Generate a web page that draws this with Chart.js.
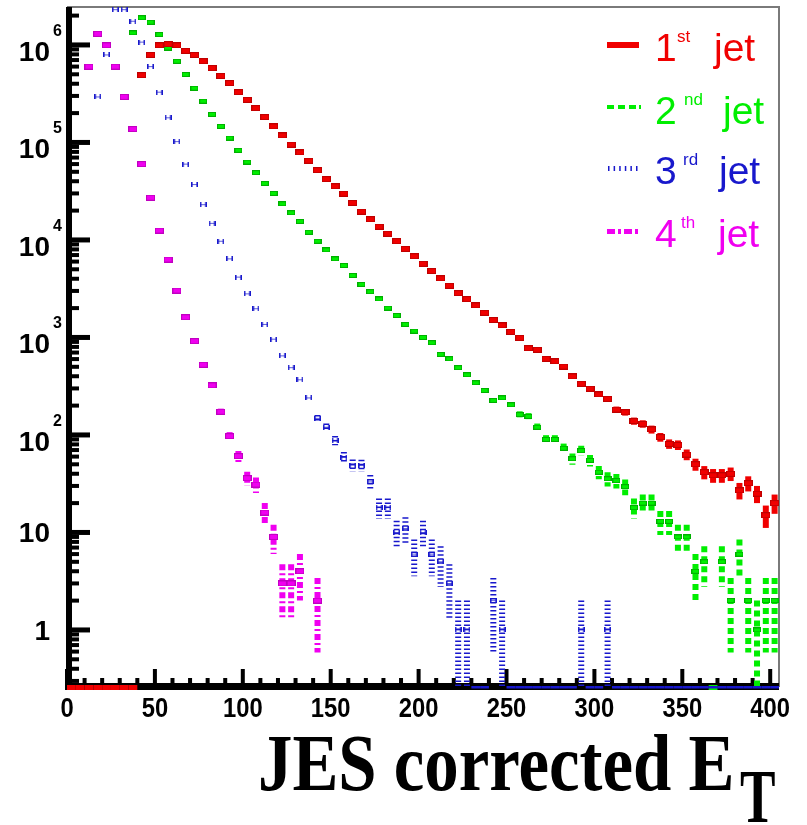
<!DOCTYPE html>
<html>
<head>
<meta charset="utf-8">
<script src="https://cdn.jsdelivr.net/npm/chart.js@4.4.1/dist/chart.umd.min.js"></script>
<style>
  html, body { margin: 0; padding: 0; background: #fff; }
  #wrap { position: relative; width: 807px; height: 825px; overflow: hidden; }
  #wrap canvas { position: absolute; left: 0; top: 0; }
  .txt { position: absolute; line-height: 0; white-space: nowrap; transform-origin: 0 0; }
</style>
</head>
<body>
<div id="wrap"><canvas id="jets" width="807" height="825"></canvas></div>
<script>
// JES corrected jet ET spectra, 5 GeV bins from 0 to 405 (bin centres 2.5 ... 402.5)
// null = bin not drawn, 0 = empty bin drawn on the axis
const binCenters = Array.from({ length: 81 }, (_, i) => 2.5 + 5 * i);

const jet1 = [
  0, 0, 0, 0, 0, 0, 0, 0, 4.9e5, 7.9e5,
  9.9e5, 1.02e6, 9.9e5, 8.7e5, 7.9e5, 6.8e5, 5.8e5, 4.8e5, 4.06e5, 3.28e5,
  2.74e5, 2.25e5, 1.82e5, 1.46e5, 1.18e5, 9.5e4, 7.9e4, 6.5e4, 5.2e4, 4.2e4,
  3.55e4, 2.98e4, 2.4e4, 1.95e4, 1.63e4, 1.37e4, 1.16e4, 9700, 8100, 6800,
  5700, 4800, 4030, 3390, 2850, 2470, 2130, 1790, 1510, 1330,
  1140, 990, 776, 748, 604, 568, 503, 398, 335, 298,
  260, 235, 182, 171, 139, 130, 114, 95, 81, 79,
  63, 50, 41.5, 38.5, 38.5, 40, 27, 32, 25, 15,
  20
];
const jet2 = [
  null, null, null, null, null, null, null, 1.33e6, 1.9e6, 1.71e6,
  1.28e6, 9.3e5, 6.8e5, 4.98e5, 3.6e5, 2.65e5, 1.94e5, 1.46e5, 1.11e5, 8.3e4,
  6.3e4, 4.9e4, 3.8e4, 3.0e4, 2.35e4, 1.9e4, 1.55e4, 1.2e4, 9700, 7900,
  6400, 5470, 4320, 3500, 2950, 2480, 2000, 1680, 1360, 1160,
  1000, 883, 670, 604, 490, 414, 343, 286, 226, 240,
  204, 162, 155, 120, 90, 90, 73, 57, 69, 55,
  41.5, 35.5, 34, 29.5, 18, 20, 20, 13, 13, 9,
  9, 4, 5, 0, 5, 2, 6, 2, 1, 2,
  2
];
const jet3 = [
  null, null, null, 2.93e5, 7.9e5, 2.3e6, 2.3e6, 1.75e6, 1.07e6, 6.0e5,
  3.28e5, 1.79e5, 1.02e5, 6.0e4, 3.7e4, 2.3e4, 1.48e4, 9700, 6400, 4160,
  2800, 1970, 1360, 960, 648, 490, 368, 240, 148, 120,
  88, 59, 49, 48.6, 33, 18, 18, 10, 11, 6,
  10, 6, 5, 3, 1, 1, 0, 0, 2, 1,
  0, 0, 0, 0, 0, 0, 0, 0, 1, 0,
  0, 1, 0, 0, 0, 0, 0, 0, 0, 0,
  0, 0, 0, 0, 0, 0, 0, 0, 0, 0,
  0
];
const jet4 = [
  null, null, 6.0e5, 1.30e6, 9.9e5, 6.0e5, 2.93e5, 1.37e5, 6.0e4, 2.71e4,
  1.25e4, 6300, 3030, 1610, 916, 525, 322, 173, 97, 60.6,
  36, 31, 16, 9, 3, 3, 4, null, 2, null,
  null, null, null, null, null, null, null, null, null, null,
  null, null, null, null, null, null, null, null, null, null,
  null, null, null, null, null, null, null, null, null, null,
  null, null, null, null, null, null, null, null, null, null,
  null, null, null, null, null, null, null, null, null, null,
  null
];

const seriesNames = ['1st jet', '2nd jet', '3rd jet', '4th jet'];
const xTicks = [0, 50, 100, 150, 200, 250, 300, 350, 400];
const yTicks = [1, 10, 1e2, 1e3, 1e4, 1e5, 1e6];
const yTickBase = ['1', '10', '10', '10', '10', '10', '10'];
const yTickExp = ['', '', '2', '3', '4', '5', '6'];

const RED = '#f00000', GREEN = '#00ee00', BLUE = '#1818cc', MAGENTA = '#f000f0';

function boxMarker(w, h, fill, edge) {
  const c = document.createElement('canvas');
  c.width = w; c.height = h;
  const g = c.getContext('2d');
  g.fillStyle = edge; g.fillRect(0, 0, w, h);
  g.fillStyle = fill; g.fillRect(1, 1, w - 2, h - 2);
  return c;
}
function hMarker(w, h, color) {
  const c = document.createElement('canvas');
  c.width = w; c.height = h;
  const g = c.getContext('2d');
  g.fillStyle = color;
  g.fillRect(0, 0, 1.6, h);
  g.fillRect(w - 1.6, 0, 1.6, h);
  g.globalAlpha = 0.7;
  g.fillRect(0, h / 2 - 0.5, w, 1);
  return c;
}

function points(values) {
  const out = [];
  values.forEach((v, i) => { if (v) out.push({ x: binCenters[i], y: v }); });
  return out;
}

const styles = [
  { color: RED, marker: boxMarker(9, 6, RED, '#c00000'), errDash: [], errWidth: 6 },
  { color: GREEN, marker: boxMarker(8, 5, GREEN, '#00b000'), errDash: [6, 4], errWidth: 6 },
  { color: BLUE, marker: hMarker(7, 5, BLUE), errDash: [1.5, 2.5], errWidth: 6 },
  { color: MAGENTA, marker: boxMarker(9, 6, MAGENTA, '#c000c0'), errDash: [6, 3, 2, 3], errWidth: 6 }
];
const seriesValues = [jet1, jet2, jet3, jet4];

const datasets = seriesValues.map((vals, i) => ({
  label: seriesNames[i],
  data: points(vals),
  raw: vals,
  showLine: false,
  pointStyle: styles[i].marker,
  pointRadius: 4,
  pointHoverRadius: 4,
  errColor: styles[i].color,
  errDash: styles[i].errDash,
  errWidth: styles[i].errWidth
}));

// frame, ticks inside the plot, ROOT style
const axesPlugin = {
  id: 'rootAxes',
  beforeDatasetsDraw(chart) {
    const { ctx, chartArea: a, scales: { x, y } } = chart;
    ctx.save();
    ctx.strokeStyle = '#7a7a7a'; ctx.lineWidth = 2;
    ctx.beginPath();
    ctx.moveTo(a.left, a.top); ctx.lineTo(a.right, a.top); ctx.lineTo(a.right, a.bottom);
    ctx.stroke();
    ctx.fillStyle = '#000';
    ctx.fillRect(a.left - 1, a.top, 6, a.bottom - a.top + 3);
    ctx.fillRect(a.left - 1, a.bottom - 4, a.right - a.left + 1, 7);
    for (let k = -1; k <= 6; k++) {
      for (let m = 1; m <= 9; m++) {
        const v = m * Math.pow(10, k);
        if (v < y.min || v > y.max) continue;
        const py = y.getPixelForValue(v);
        if (m === 1) ctx.fillRect(a.left, py - 2.5, 23, 5);
        else ctx.fillRect(a.left, py - 2, 12, 4);
      }
    }
    for (let t = 0; t <= 400; t += 10) {
      const px = x.getPixelForValue(t);
      const h = t % 50 === 0 ? 21 : 12;
      ctx.fillRect(px - 2, a.bottom + 3 - h, 4, h);
    }
    // error bars (sqrt N)
    chart.data.datasets.forEach(ds => {
      ctx.strokeStyle = ds.errColor;
      ctx.lineWidth = ds.errWidth;
      ctx.setLineDash(ds.errDash);
      ctx.lineCap = 'butt';
      ds.data.forEach(p => {
        const e = Math.sqrt(p.y);
        const top = y.getPixelForValue(p.y + e);
        const bot = p.y - e > y.min ? y.getPixelForValue(p.y - e) : a.bottom;
        if (bot - top < 6) return;
        const px = x.getPixelForValue(p.x);
        ctx.beginPath();
        ctx.moveTo(px, Math.max(top, a.top)); ctx.lineTo(px, bot);
        ctx.stroke();
      });
    });
    ctx.restore();
  },
  afterDatasetsDraw(chart) {
    const { ctx, chartArea: a, scales: { x } } = chart;
    ctx.save();
    // empty bins are drawn on the axis
    chart.data.datasets.forEach((ds, di) => {
      ds.raw.forEach((v, i) => {
        if (v !== 0) return;
        const x0 = x.getPixelForValue(binCenters[i] - 2.5);
        const x1 = x.getPixelForValue(binCenters[i] + 2.5);
        ctx.fillStyle = ds.errColor;
        if (di === 2) ctx.fillRect(x0, a.bottom - 1, x1 - x0, 2.5);
        else ctx.fillRect(x0, a.bottom - 2, x1 - x0, 5);
      });
    });
    ctx.restore();
  },
  afterDraw(chart) {
    const { ctx, scales: { x, y } } = chart;
    ctx.save();
    ctx.fillStyle = '#000';
    yTicks.forEach((v, i) => {
      const py = y.getPixelForValue(v);
      ctx.font = 'bold 28px "Liberation Sans", Arial, sans-serif';
      ctx.textAlign = 'right';
      ctx.fillText(yTickBase[i], 50, yTickExp[i] ? py + 16 : py + 10);
      if (yTickExp[i]) {
        ctx.font = 'bold 16px "Liberation Sans", Arial, sans-serif';
        ctx.textAlign = 'left';
        ctx.fillText(yTickExp[i], 53, py - 9);
      }
    });
    ctx.font = 'bold 28px "Liberation Sans", Arial, sans-serif';
    ctx.textAlign = 'center';
    xTicks.forEach(t => {
      const px = x.getPixelForValue(t);
      ctx.save();
      ctx.translate(px, 717);
      ctx.scale(0.85, 1);
      ctx.fillText(String(t), 0, 0);
      ctx.restore();
    });
    // legend samples
    const lx0 = 607, lx1 = 639;
    ctx.fillStyle = RED;
    ctx.fillRect(lx0, 42, lx1 - lx0, 6);
    ctx.fillStyle = GREEN;
    [[607, 7], [618, 7], [629, 7], [639, 2]].forEach(s => ctx.fillRect(s[0], 105, s[1], 4));
    ctx.fillStyle = BLUE;
    for (let k = 0; k < 6; k++) ctx.fillRect(608 + k * 5.6, 166, 1.5, 5);
    ctx.fillStyle = MAGENTA;
    [[607, 8], [618, 3], [624, 8], [635, 3]].forEach(s => ctx.fillRect(s[0], 229, s[1], 5));
    ctx.restore();
  }
};

new Chart(document.getElementById('jets'), {
  type: 'scatter',
  data: { datasets },
  options: {
    responsive: false, animation: false, events: [],
    layout: { padding: { left: 67, right: 28, top: 7, bottom: 138 } },
    plugins: { legend: { display: false }, tooltip: { enabled: false } },
    scales: {
      x: { type: 'linear', min: 0, max: 405, display: false },
      y: { type: 'logarithmic', min: 0.26, max: 2.45e6, display: false }
    }
  },
  plugins: [axesPlugin]
});

// legend text and axis title as page text
const wrap = document.getElementById('wrap');
function label(text, left, baseline, size, color, family, weight, sx, k) {
  const s = document.createElement('div');
  s.className = 'txt';
  s.textContent = text;
  s.style.left = left + 'px';
  s.style.top = (baseline - k * size) + 'px';
  s.style.fontSize = size + 'px';
  s.style.color = color;
  s.style.fontFamily = family;
  s.style.fontWeight = weight;
  if (sx !== 1) s.style.transform = 'scaleX(' + sx + ')';
  wrap.appendChild(s);
}
const SANS = '"Liberation Sans", Arial, sans-serif', SERIF = '"Liberation Serif", "Times New Roman", serif';
const legendRows = [
  { num: '1', sup: 'st', color: RED, base: 62, supLeft: 677, jetLeft: 714 },
  { num: '2', sup: 'nd', color: GREEN, base: 125, supLeft: 684, jetLeft: 723 },
  { num: '3', sup: 'rd', color: BLUE, base: 185, supLeft: 683, jetLeft: 719 },
  { num: '4', sup: 'th', color: MAGENTA, base: 248, supLeft: 681, jetLeft: 718 }
];
legendRows.forEach(r => {
  label(r.num, 655, r.base, 39, r.color, SANS, 'normal', 1, 0.3465);
  label(r.sup, r.supLeft, r.base - 19, 17, r.color, SANS, 'normal', 1, 0.3465);
  label('jet', r.jetLeft, r.base, 39, r.color, SANS, 'normal', 1, 0.3465);
});
label('JES corrected E', 258, 790, 80, '#000', SERIF, 'bold', 0.86, 0.3375);
label('T', 740, 822, 76, '#000', SERIF, 'bold', 0.7, 0.3375);
</script>
</body>
</html>
